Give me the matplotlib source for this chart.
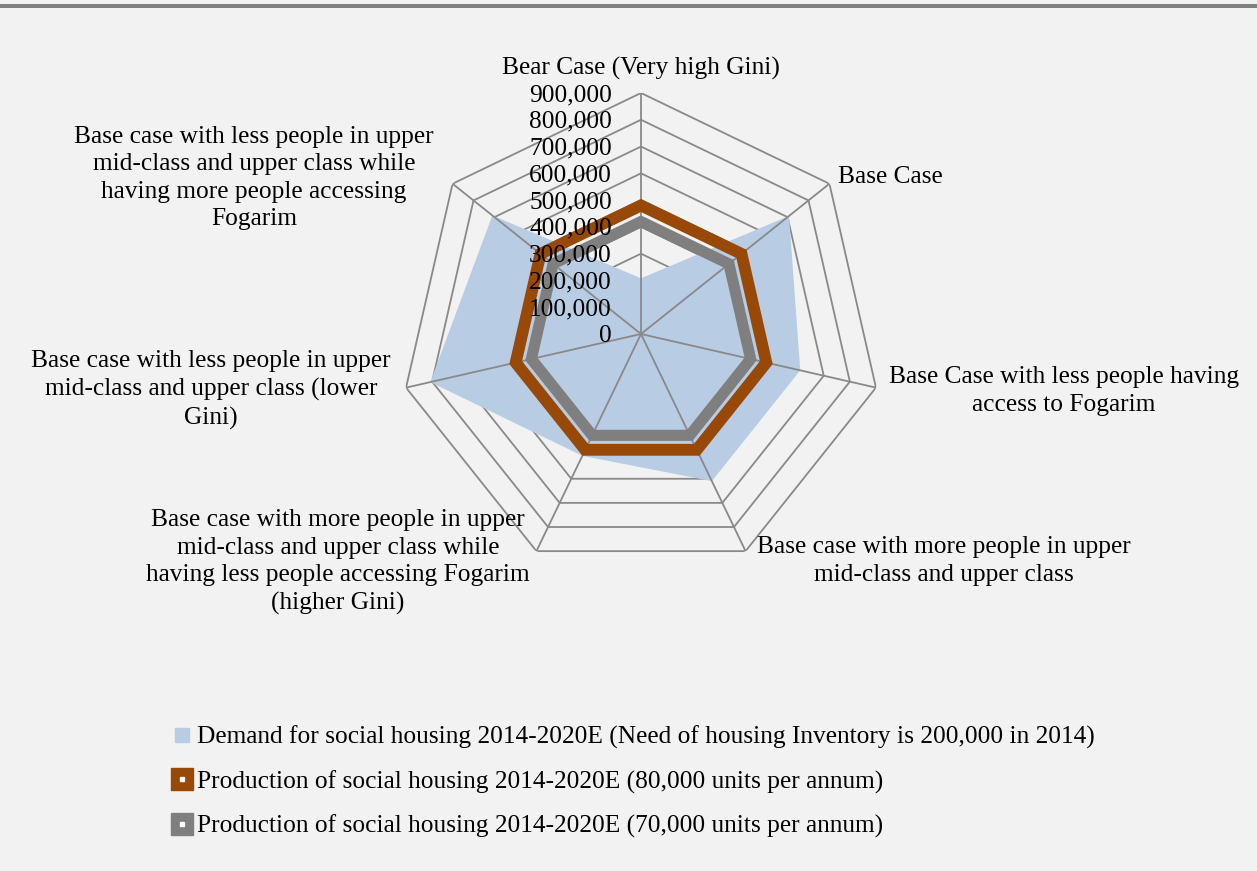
import numpy as np
import matplotlib.pyplot as plt
import matplotlib.transforms as mtransforms
from matplotlib.lines import Line2D
from matplotlib.legend_handler import HandlerTuple

plt.rcParams['font.family'] = ['Liberation Serif', 'DejaVu Serif']

# data
categories = [
    'Bear Case (Very high Gini)',
    'Base Case',
    'Base Case with less people having\naccess to Fogarim',
    'Base case with more people in upper\nmid-class and upper class',
    'Base case with more people in upper\nmid-class and upper class while\nhaving less people accessing Fogarim\n(higher Gini)',
    'Base case with less people in upper\nmid-class and upper class (lower\nGini)',
    'Base case with less people in upper\nmid-class and upper class while\nhaving more people accessing\nFogarim',
]
demand = [208000, 707000, 610000, 610000, 505000, 807000, 710000]
prod_80k = [480000, 480000, 480000, 480000, 480000, 480000, 480000]
prod_70k = [420000, 420000, 420000, 420000, 420000, 420000, 420000]
ring_values = [0, 100000, 200000, 300000, 400000, 500000, 600000, 700000, 800000, 900000]
ring_labels = ['0', '100,000', '200,000', '300,000', '400,000', '500,000',
               '600,000', '700,000', '800,000', '900,000']
series_names = [
    'Demand for social housing 2014-2020E (Need of housing Inventory is 200,000 in 2014)',
    'Production of social housing 2014-2020E (80,000 units per annum)',
    'Production of social housing 2014-2020E (70,000 units per annum)',
]

blue = '#b8cce4'
orange = '#984807'
gray = '#7f7f7f'
grid_c = '#898989'
bg = '#f2f2f2'

W, H = 1257, 871
fig = plt.figure(figsize=(W / 100, H / 100), dpi=100, facecolor=bg)
fig.add_artist(plt.Rectangle((0, 1 - 8 / H), 1, 4 / H, transform=fig.transFigure,
                             color='#808080', lw=0))

# radar axes placed so centre ~ (641, 334) px, outer ring radius ~241 px
cx, cy, R = 641, 334, 241
ax = fig.add_axes([(cx - R) / W, (H - cy - R) / H, 2 * R / W, 2 * R / H], projection='polar')
ax.set_theta_offset(np.pi / 2)
ax.set_theta_direction(-1)
ax.set_ylim(0, ring_values[-1])
ax.set_axis_off()

n = len(categories)
angles = np.linspace(0, 2 * np.pi, n, endpoint=False)

# rings under the fill, spokes above it (as in the Excel original)
for v in ring_values[1:]:
    ax.fill(angles, [v] * n, fill=False, edgecolor=grid_c, lw=1.3, zorder=0.5)
ax.fill(angles, demand, color=blue, lw=0, zorder=1)
for a in angles:
    ax.plot([a, a], [0, ring_values[-1]], color=grid_c, lw=1.3, zorder=2)
ax.fill(angles, prod_80k, fill=False, edgecolor=orange, lw=8.5, zorder=3, joinstyle='miter')
ax.fill(angles, prod_70k, fill=False, edgecolor=gray, lw=8, zorder=4, joinstyle='miter')

off = mtransforms.offset_copy(ax.transData, fig=fig, x=-29, y=-2, units='dots')
for v, lab in zip(ring_values, ring_labels):
    ax.text(0, v, lab, transform=off, ha='right', va='center', fontsize=18.3, zorder=5)

# category labels (pixel positions)
label_pos = [(641, 68, 'center'), (838, 177, 'left'), (1064, 391, 'center'),
             (944, 561, 'center'), (338, 562, 'center'), (211, 390, 'center'),
             (254, 178, 'center')]
for lab, (x, y, ha) in zip(categories, label_pos):
    fig.text(x / W, 1 - y / H, lab, ha=ha, va='center', ma='center', fontsize=18.3,
             linespacing=1.33)

h_demand = Line2D([], [], lw=0, marker='s', markersize=10, color=blue)
h_80 = (Line2D([], [], lw=0, marker='s', markersize=16, color=orange),
        Line2D([], [], lw=0, marker='s', markersize=3, color='white'))
h_70 = (Line2D([], [], lw=0, marker='s', markersize=16, color=gray),
        Line2D([], [], lw=0, marker='s', markersize=3, color='white'))
fig.legend([h_demand, h_80, h_70], series_names, handler_map={tuple: HandlerTuple(ndivide=1)},
           loc='upper left', bbox_to_anchor=(169 / W, 1 - 726 / H), frameon=False, fontsize=18.3,
           handlelength=1.0, handletextpad=0.1, labelspacing=0.82, borderaxespad=0, borderpad=0)

fig.savefig('out.png', dpi=100, facecolor=bg)
